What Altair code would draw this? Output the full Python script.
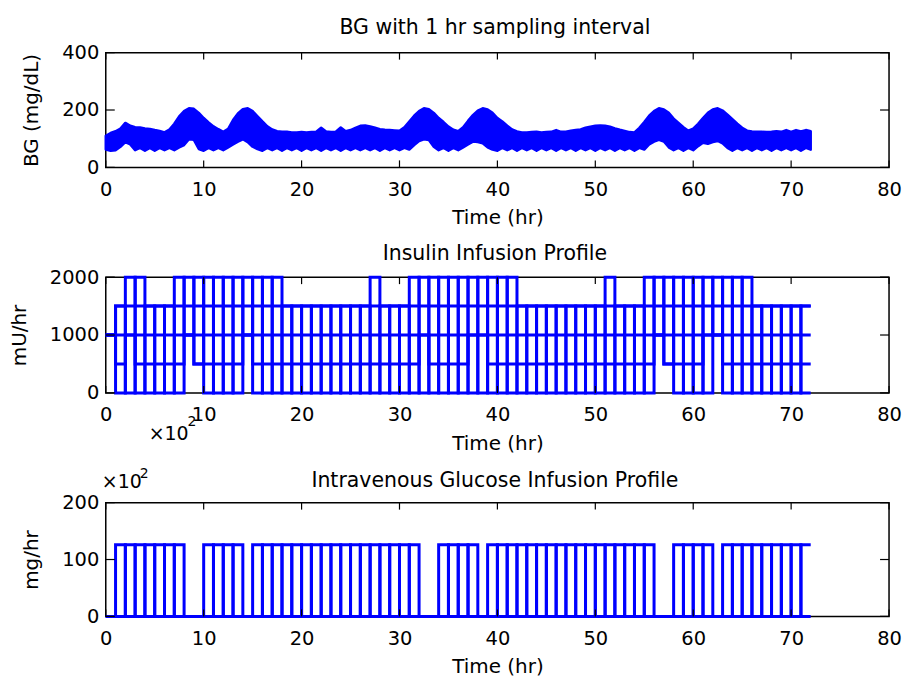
import altair as alt
import pandas as pd

# ---------------- data ----------------
x_ticks = [0, 10, 20, 30, 40, 50, 60, 70, 80]
bg_ticks = [0, 200, 400]
ins_ticks = [0, 1000, 2000]
glu_ticks = [0, 100, 200]

# BG band, sampled every half hour from 0 to 72 h
bg_time = [h / 2 for h in range(145)]
bg_upper = [
    110, 120, 126, 135, 155, 145, 140, 139, 136, 134, 130, 127, 122, 132,
    152, 178, 196, 206, 204, 190, 172, 157, 143, 133, 124, 134, 165, 188,
    203, 206, 196, 178, 160, 143, 132, 126, 124, 124, 122, 122, 123, 122,
    123, 124, 138, 125, 123, 124, 139, 126, 130, 138, 145, 146, 143, 138,
    133, 131, 130, 129, 128, 140, 160, 180, 196, 206, 203, 190, 172, 158,
    142, 131, 126, 140, 162, 182, 198, 206, 202, 190, 172, 160, 145, 132,
    125, 122, 122, 123, 124, 122, 123, 124, 130, 124, 124, 128, 130, 132,
    138, 142, 145, 146, 145, 142, 136, 131, 127, 123, 122, 138, 158, 180,
    196, 206, 202, 190, 170, 155, 140, 128, 135, 152, 172, 190, 202, 206,
    198, 184, 168, 152, 138, 128, 125, 124, 124, 123, 124, 126, 124, 130,
    124, 130, 125, 130, 126,
]
bg_lower = [
    62, 58, 60, 72, 88, 80, 60, 68, 58, 68, 58, 68, 60, 68, 60, 70,
    78, 98, 96, 64, 58, 68, 60, 68, 60, 70, 80, 90, 98, 88, 72, 64,
    58, 68, 60, 68, 58, 68, 60, 68, 58, 68, 60, 68, 58, 68, 60, 68,
    58, 68, 60, 68, 60, 68, 60, 68, 58, 68, 60, 68, 60, 68, 62, 78,
    92, 98, 95, 72, 60, 68, 58, 68, 60, 70, 80, 90, 88, 84, 70, 62,
    58, 68, 60, 68, 58, 68, 60, 68, 58, 68, 60, 68, 58, 68, 60, 68,
    58, 68, 60, 68, 58, 68, 60, 68, 58, 68, 60, 68, 58, 68, 62, 80,
    90, 96, 90, 70, 60, 68, 58, 68, 60, 74, 86, 82, 88, 92, 84, 68,
    58, 68, 60, 68, 58, 68, 60, 68, 58, 68, 60, 68, 60, 68, 58, 68,
    62,
]

# Insulin infusion traces (mU/hr), one value per hour 0..71
ins_base_t = [0, 72]
ins_base_v = [1000, 1000]
ins_basal_t = [0, 1, 72]
ins_basal_v = [1000, 1500, 1500]
ins_p = [
    1000, 0, 2000, 0, 1500, 0, 1500, 0, 2000, 500, 2000, 0,
    2000, 0, 2000, 0, 2000, 0, 1500, 0, 1500, 0, 1500, 0,
    1500, 0, 1500, 0, 1500, 0, 1500, 0, 2000, 0, 2000, 0,
    2000, 0, 2000, 0, 2000, 0, 1500, 0, 1500, 0, 1500, 0,
    1500, 0, 1500, 0, 1500, 0, 1500, 0, 2000, 500, 2000, 0,
    2000, 0, 2000, 0, 2000, 0, 1500, 0, 1500, 0, 1500, 0,
]
ins_q = [
    1000, 1500, 0, 2000, 0, 1500, 0, 2000, 1000, 2000, 0, 2000,
    0, 2000, 1000, 2000, 0, 2000, 0, 1500, 0, 1500, 0, 1500,
    0, 1500, 0, 2000, 0, 1500, 0, 2000, 0, 2000, 0, 2000,
    0, 2000, 0, 2000, 0, 2000, 0, 1500, 0, 1500, 0, 1500,
    0, 1500, 0, 2000, 0, 1500, 0, 2000, 1000, 2000, 0, 2000,
    0, 2000, 1000, 2000, 0, 2000, 0, 1500, 0, 1500, 0, 1500,
]
ins_r = [
    1000, 500, 1000, 500, 500, 500, 500, 500, 1000, 500, 500, 500,
    500, 500, 1000, 500, 500, 500, 500, 500, 500, 500, 500, 500,
    500, 500, 500, 500, 500, 500, 500, 500, 1000, 500, 500, 500,
    500, 1000, 1000, 500, 500, 500, 500, 500, 500, 500, 500, 500,
    500, 500, 500, 500, 500, 500, 500, 500, 1000, 500, 500, 500,
    500, 1000, 1000, 500, 500, 500, 500, 500, 500, 500, 500, 500,
]

# Glucose infusion traces (x100 mg/hr), one value per hour 0..71
glu_p = [
    0, 0, 126, 0, 126, 0, 126, 0, 0, 0, 126, 0,
    126, 0, 0, 0, 126, 0, 126, 0, 126, 0, 126, 0,
    126, 0, 126, 0, 126, 0, 126, 0, 0, 0, 126, 0,
    126, 0, 0, 0, 126, 0, 126, 0, 126, 0, 126, 0,
    126, 0, 126, 0, 126, 0, 126, 0, 0, 0, 126, 0,
    126, 0, 0, 0, 126, 0, 126, 0, 126, 0, 126, 0,
]
glu_q = [
    0, 126, 0, 126, 0, 126, 0, 126, 0, 0, 0, 126,
    0, 126, 0, 126, 0, 126, 0, 126, 0, 126, 0, 126,
    0, 126, 0, 126, 0, 126, 0, 126, 0, 0, 0, 126,
    0, 126, 0, 126, 0, 126, 0, 126, 0, 126, 0, 126,
    0, 126, 0, 126, 0, 126, 0, 126, 0, 0, 0, 126,
    0, 126, 0, 126, 0, 126, 0, 126, 0, 126, 0, 126,
]

titles = [
    "BG with 1 hr sampling interval",
    "Insulin Infusion Profile",
    "Intravenous Glucose Infusion Profile",
]

# ---------------- styling ----------------
W = 785
BLUE = "#0000ff"
FONT = "DejaVu Sans"
LBL = 19.5
TTL = 20


def hourly(values, name):
    t = list(range(len(values))) + [len(values)]
    v = list(values) + [values[-1]]
    return pd.DataFrame({"t": t, "v": v, "trace": name})


def breakpoints(ts, vs, name):
    return pd.DataFrame({"t": ts, "v": vs, "trace": name})


def x_enc():
    return alt.X(
        "t:Q",
        scale=alt.Scale(domain=[0, 80], nice=False, zero=False),
        axis=alt.Axis(
            values=x_ticks, title="Time (hr)", ticks=False, domain=False, grid=False,
            labelPadding=13, titlePadding=9, labelFontSize=LBL, titleFontSize=TTL,
            labelFont=FONT, titleFont=FONT, titleFontWeight="normal",
            labelColor="black", titleColor="black", labelFlush=False,
            labelOverlap=False, format="d",
        ),
    )


def y_enc(dom, ticks, title):
    return alt.Y(
        "v:Q",
        scale=alt.Scale(domain=dom, nice=False, zero=False),
        axis=alt.Axis(
            values=ticks, title=title, ticks=False, domain=False, grid=False,
            labelPadding=7, titlePadding=20, labelFontSize=LBL, titleFontSize=TTL,
            labelFont=FONT, titleFont=FONT, titleFontWeight="normal",
            labelColor="black", titleColor="black", labelFlush=False,
            labelOverlap=False, format="d",
        ),
    )


def tick_layers(H, dom, ticks, title):
    xt = pd.DataFrame({"t": x_ticks})
    yt = pd.DataFrame({"v": ticks})
    rs = dict(color="black", strokeWidth=1.2)
    bottom = alt.Chart(xt).mark_rule(**rs).encode(x=x_enc(), y=alt.value(H), y2=alt.value(H - 7))
    top = alt.Chart(xt).mark_rule(**rs).encode(x=x_enc(), y=alt.value(0), y2=alt.value(7))
    left = alt.Chart(yt).mark_rule(**rs).encode(y=y_enc(dom, ticks, title), x=alt.value(0), x2=alt.value(9))
    right = alt.Chart(yt).mark_rule(**rs).encode(y=y_enc(dom, ticks, title), x=alt.value(W - 9), x2=alt.value(W))
    return [bottom, top, left, right]


ann = pd.DataFrame({"a": [0]})


def text_mark(text, x, y, size, align="left"):
    return alt.Chart(ann).mark_text(
        text=text, font=FONT, fontSize=size, align=align, baseline="alphabetic", color="black"
    ).encode(x=alt.value(x), y=alt.value(y))


# ---- panel 1: BG ----
H1 = 115
bg_df = pd.DataFrame({"t": bg_time, "v": bg_lower, "v2": bg_upper})
band = alt.Chart(bg_df).mark_area(
    color=BLUE, opacity=1, stroke=BLUE, strokeWidth=2.5, strokeJoin="round"
).encode(x=x_enc(), y=y_enc([0, 400], bg_ticks, "BG (mg/dL)"), y2="v2:Q")
# invisible frame anchor: fixes the page origin 105 px left / 51 px above panel 1
anchor = alt.Chart(ann).mark_rule(opacity=0, strokeWidth=0.01).encode(
    x=alt.value(-105), x2=alt.value(W + 15), y=alt.value(-51)
)
p1 = alt.layer(
    band, *tick_layers(H1, [0, 400], bg_ticks, "BG (mg/dL)"), anchor,
    text_mark(titles[0], 390, -18.5, 20.5, "center"),
).properties(width=W, height=H1)

# ---- panel 2: insulin ----
H2 = 116
ins_df = pd.concat([
    breakpoints(ins_base_t, ins_base_v, "base"),
    breakpoints(ins_basal_t, ins_basal_v, "basal"),
    hourly(ins_r, "r"),
    hourly(ins_p, "p"),
    hourly(ins_q, "q"),
])
ins_lines = alt.Chart(ins_df).mark_line(
    interpolate="step-after", color=BLUE, strokeWidth=3
).encode(x=x_enc(), y=y_enc([0, 2000], ins_ticks, "mU/hr"), detail="trace:N")
p2 = alt.layer(
    ins_lines, *tick_layers(H2, [0, 2000], ins_ticks, "mU/hr"),
    text_mark(titles[1], 390, -17.5, 20.5, "center"),
    text_mark("×10", 43, 163, 19), text_mark("2", 82, 149, 14),
).properties(width=W, height=H2)

# ---- panel 3: glucose ----
H3 = 114
glu_df = pd.concat([hourly(glu_p, "p"), hourly(glu_q, "q")])
glu_lines = alt.Chart(glu_df).mark_line(
    interpolate="step-after", color=BLUE, strokeWidth=3
).encode(x=x_enc(), y=y_enc([0, 200], glu_ticks, "mg/hr"), detail="trace:N")
p3 = alt.layer(
    glu_lines, *tick_layers(H3, [0, 200], glu_ticks, "mg/hr"),
    text_mark(titles[2], 390, -15.5, 20.5, "center"),
    text_mark("×10", -4, -15, 19), text_mark("2", 34, -25, 14),
).properties(width=W, height=H3)

chart = alt.vconcat(p1, p2, p3, spacing=110, bounds="flush").properties(
    padding=0,
    background="white",
).configure_view(stroke="black", strokeWidth=1.5)

chart.save("out.html", embed_options={"renderer": "svg", "actions": False})
